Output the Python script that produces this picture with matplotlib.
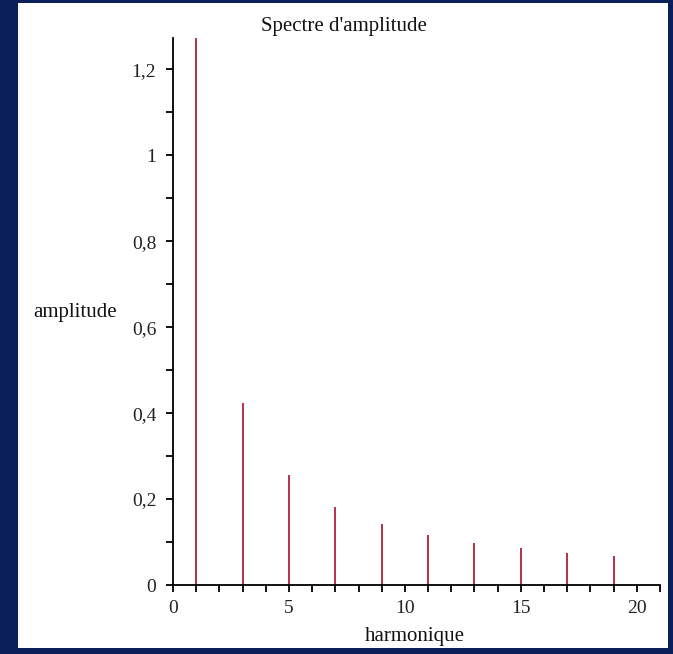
import matplotlib
matplotlib.use("Agg")
import matplotlib.pyplot as plt
from matplotlib.patches import Rectangle
from matplotlib.ticker import MultipleLocator, FuncFormatter

# Data
harmonics = [1, 3, 5, 7, 9, 11, 13, 15, 17, 19]
amplitudes = [1.273, 0.424, 0.255, 0.182, 0.141, 0.116, 0.098, 0.085, 0.075, 0.067]
x_major_ticks = [0, 5, 10, 15, 20]
y_major_ticks = [0, 0.2, 0.4, 0.6, 0.8, 1.0, 1.2]
title = "Spectre d'amplitude"
xlabel = "harmonique"
ylabel = "amplitude"

plt.rcParams['font.family'] = ['Liberation Serif', 'DejaVu Serif']

W, H = 673, 654
fig = plt.figure(figsize=(W / 100, H / 100), dpi=100)
fig.patch.set_facecolor('#0b1f5a')

bg = fig.add_axes([0, 0, 1, 1], zorder=0)
bg.set_xlim(0, W)
bg.set_ylim(H, 0)
bg.axis('off')
bg.add_patch(Rectangle((18, 3), 668 - 18, 648 - 3, facecolor='white', edgecolor='none'))

left, right = 173 / W, 660 / W
bottom, top = 1 - 585 / H, 1 - 38 / H
ax = fig.add_axes([left, bottom, right - left, top - bottom], zorder=1)
ax.set_facecolor('none')

ax.vlines(harmonics, 0, amplitudes, color='#b0203a', linewidth=1.3)

ax.set_xlim(0, 21)
ax.set_ylim(0, 1.273)
for s in ['top', 'right']:
    ax.spines[s].set_visible(False)
for s in ['left', 'bottom']:
    ax.spines[s].set_linewidth(1.3)
    ax.spines[s].set_color('black')

ax.set_xticks(x_major_ticks)
ax.xaxis.set_minor_locator(MultipleLocator(1))
ax.set_yticks(y_major_ticks)
ax.yaxis.set_minor_locator(MultipleLocator(0.1))
ax.yaxis.set_major_formatter(FuncFormatter(lambda v, p: ('%g' % round(v, 2)).replace('.', ',')))
ax.tick_params(axis='both', which='both', direction='out', width=1.3, color='black',
               length=5, labelsize=14, labelcolor='#222222')
ax.tick_params(axis='y', which='major', pad=7)
ax.tick_params(axis='x', which='major', pad=6)

fig.text(344 / W, 1 - 27 / H, title, ha='center', va='center', fontsize=15, color='#111111')
fig.text(75 / W, 1 - 313 / H, ylabel, ha='center', va='center', fontsize=15, color='#111111')
fig.text(415 / W, 1 - 636 / H, xlabel, ha='center', va='center', fontsize=15, color='#111111')

fig.savefig('out.png', dpi=100, facecolor=fig.get_facecolor())
